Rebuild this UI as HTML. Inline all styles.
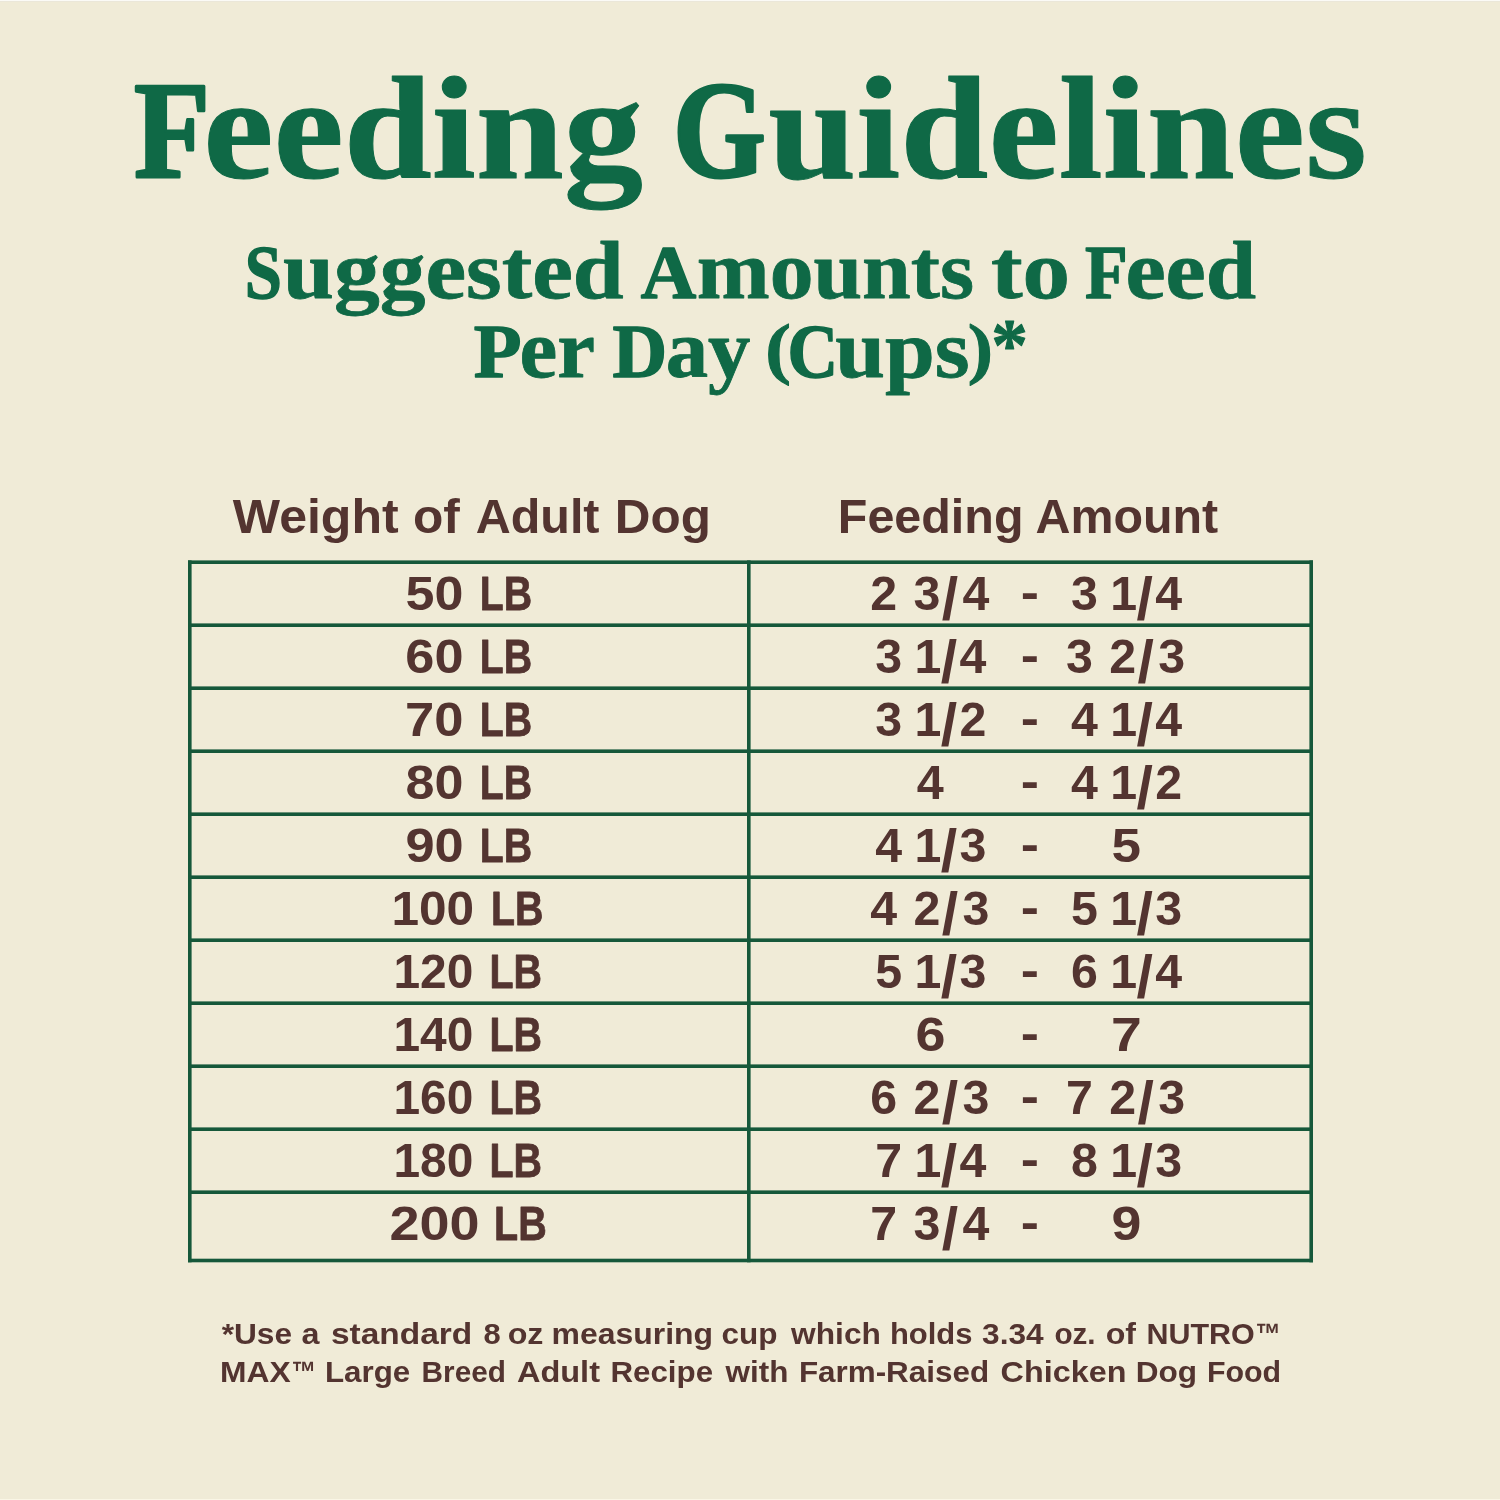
<!DOCTYPE html>
<html lang="en">
<head>
<meta charset="utf-8">
<title>Feeding Guidelines</title>
<style>
html,body{margin:0;padding:0;background:#f0ebd7;}
body{width:1500px;height:1500px;overflow:hidden;}
svg{display:block;}
.serif{font-family:"Liberation Serif",serif;font-weight:bold;fill:#0f6946;stroke:#0f6946;stroke-linejoin:round;stroke-width:0;}
.sans{font-family:"Liberation Sans",sans-serif;font-weight:bold;fill:#533430;stroke:#533430;stroke-linejoin:round;stroke-width:0;}
</style>
</head>
<body>
<svg width="1500" height="1500" viewBox="0 0 1500 1500">
<rect x="0" y="0" width="1500" height="1500" fill="#f0ebd7"/>
<rect x="0" y="0" width="1500" height="1" fill="#fbfaf6"/>
<rect x="0" y="1" width="1500" height="1" fill="#ebe7d9"/>
<rect x="0" y="1499" width="1500" height="1" fill="#faf6e6"/>
<text class="serif"><tspan x="134.0" y="177" textLength="76.0" lengthAdjust="spacingAndGlyphs" font-size="138" stroke-width="3">F</tspan><tspan x="203.2" y="178" textLength="439.8" lengthAdjust="spacingAndGlyphs" font-size="147" stroke-width="1">eeding</tspan> <tspan x="673.1" y="177" textLength="92.9" lengthAdjust="spacingAndGlyphs" font-size="138" stroke-width="3">G</tspan><tspan x="768.2" y="178" textLength="598.6" lengthAdjust="spacingAndGlyphs" font-size="147" stroke-width="1">uidelines</tspan></text>
<text class="serif"><tspan x="244.7" y="298.4" textLength="37.1" lengthAdjust="spacingAndGlyphs" font-size="76" stroke-width="1.5">S</tspan><tspan x="283.1" y="298.4" textLength="340.6" lengthAdjust="spacingAndGlyphs" font-size="83" stroke-width="0.8">uggested</tspan> <tspan x="640.8" y="298.4" textLength="55.5" lengthAdjust="spacingAndGlyphs" font-size="76" stroke-width="1.5">A</tspan><tspan x="696.8" y="298.4" textLength="277.2" lengthAdjust="spacingAndGlyphs" font-size="83" stroke-width="0.8">mounts</tspan> <tspan x="991.0" y="298.4" textLength="79.1" lengthAdjust="spacingAndGlyphs" font-size="83" stroke-width="0.8">to</tspan> <tspan x="1085.0" y="298.4" textLength="42.7" lengthAdjust="spacingAndGlyphs" font-size="76" stroke-width="1.5">F</tspan><tspan x="1125.4" y="298.4" textLength="130.7" lengthAdjust="spacingAndGlyphs" font-size="83" stroke-width="0.8">eed</tspan></text>
<text class="serif"><tspan x="473.8" y="376.6" textLength="47.8" lengthAdjust="spacingAndGlyphs" font-size="76" stroke-width="1.5">P</tspan><tspan x="519.6" y="376.6" textLength="75.5" lengthAdjust="spacingAndGlyphs" font-size="83" stroke-width="0.8">er</tspan> <tspan x="612.5" y="376.6" textLength="54.6" lengthAdjust="spacingAndGlyphs" font-size="76" stroke-width="1.5">D</tspan><tspan x="665.7" y="376.6" textLength="84.8" lengthAdjust="spacingAndGlyphs" font-size="83" stroke-width="0.8">ay</tspan> <tspan x="765.3" y="370.90000000000003" textLength="25.7" lengthAdjust="spacingAndGlyphs" font-size="67" stroke-width="1">(</tspan><tspan x="787.6" y="376.6" textLength="50.6" lengthAdjust="spacingAndGlyphs" font-size="76" stroke-width="1.5">C</tspan><tspan x="835.2" y="376.6" textLength="134.5" lengthAdjust="spacingAndGlyphs" font-size="83" stroke-width="0.8">ups</tspan><tspan x="967.7" y="370.90000000000003" textLength="25.2" lengthAdjust="spacingAndGlyphs" font-size="67" stroke-width="1">)</tspan><tspan x="991.3" y="370.3" textLength="36.7" lengthAdjust="spacingAndGlyphs" font-size="74" stroke-width="1">*</tspan></text>
<text class="sans"><tspan x="232.8" y="533" textLength="165.9" lengthAdjust="spacingAndGlyphs" font-size="49">Weight</tspan> <tspan x="413.0" y="533" textLength="46.9" lengthAdjust="spacingAndGlyphs" font-size="49">of</tspan> <tspan x="475.7" y="533" textLength="123.8" lengthAdjust="spacingAndGlyphs" font-size="49">Adult</tspan> <tspan x="614.8" y="533" textLength="96.1" lengthAdjust="spacingAndGlyphs" font-size="49">Dog</tspan></text>
<text class="sans"><tspan x="837.8" y="533" textLength="185.7" lengthAdjust="spacingAndGlyphs" font-size="49">Feeding</tspan> <tspan x="1035.5" y="533" textLength="182.7" lengthAdjust="spacingAndGlyphs" font-size="49">Amount</tspan></text>
<g fill="#16583a">
<rect x="188.0" y="560.4" width="1125.0" height="3.6"/>
<rect x="188.0" y="623.4" width="1125.0" height="3.6"/>
<rect x="188.0" y="686.4" width="1125.0" height="3.6"/>
<rect x="188.0" y="749.4" width="1125.0" height="3.6"/>
<rect x="188.0" y="812.4" width="1125.0" height="3.6"/>
<rect x="188.0" y="875.4" width="1125.0" height="3.6"/>
<rect x="188.0" y="938.4" width="1125.0" height="3.6"/>
<rect x="188.0" y="1001.4" width="1125.0" height="3.6"/>
<rect x="188.0" y="1064.4" width="1125.0" height="3.6"/>
<rect x="188.0" y="1127.4" width="1125.0" height="3.6"/>
<rect x="188.0" y="1190.4" width="1125.0" height="3.6"/>
<rect x="188.0" y="1258.7" width="1125.0" height="3.6"/>
<rect x="188.0" y="560.4" width="3.6" height="701.9"/>
<rect x="1309.4" y="560.4" width="3.6" height="701.9"/>
<rect x="747.0" y="560.4" width="3.6" height="701.9"/>
</g>
<g class="sans" font-size="48.3">
<text><tspan x="405.5" y="610" textLength="57.9" lengthAdjust="spacingAndGlyphs">50</tspan> <tspan x="479.8" y="610" textLength="52.3" lengthAdjust="spacingAndGlyphs" stroke-width="0.8">LB</tspan></text><text x="930.5" y="610" text-anchor="middle" letter-spacing="1.4">2 3<tspan font-size="59" dy="9">/</tspan><tspan dy="-9" dx="3">4</tspan></text><text x="1020.7" y="609" textLength="18.2" lengthAdjust="spacingAndGlyphs">-</text><text x="1126.3" y="610" text-anchor="middle" letter-spacing="-0.6">3 1<tspan font-size="59" dy="9">/</tspan><tspan dy="-9" dx="3">4</tspan></text>
<text><tspan x="405.3" y="673" textLength="58.2" lengthAdjust="spacingAndGlyphs">60</tspan> <tspan x="479.8" y="673" textLength="52.3" lengthAdjust="spacingAndGlyphs" stroke-width="0.8">LB</tspan></text><text x="930.5" y="673" text-anchor="middle" letter-spacing="-0.6">3 1<tspan font-size="59" dy="9">/</tspan><tspan dy="-9" dx="3">4</tspan></text><text x="1020.7" y="672" textLength="18.2" lengthAdjust="spacingAndGlyphs">-</text><text x="1126.3" y="673" text-anchor="middle" letter-spacing="1.4">3 2<tspan font-size="59" dy="9">/</tspan><tspan dy="-9" dx="3">3</tspan></text>
<text><tspan x="405.0" y="736" textLength="58.5" lengthAdjust="spacingAndGlyphs">70</tspan> <tspan x="479.8" y="736" textLength="52.3" lengthAdjust="spacingAndGlyphs" stroke-width="0.8">LB</tspan></text><text x="930.5" y="736" text-anchor="middle" letter-spacing="-0.6">3 1<tspan font-size="59" dy="9">/</tspan><tspan dy="-9" dx="3">2</tspan></text><text x="1020.7" y="735" textLength="18.2" lengthAdjust="spacingAndGlyphs">-</text><text x="1126.3" y="736" text-anchor="middle" letter-spacing="-0.6">4 1<tspan font-size="59" dy="9">/</tspan><tspan dy="-9" dx="3">4</tspan></text>
<text><tspan x="405.5" y="799" textLength="58.0" lengthAdjust="spacingAndGlyphs">80</tspan> <tspan x="479.8" y="799" textLength="52.3" lengthAdjust="spacingAndGlyphs" stroke-width="0.8">LB</tspan></text><text x="916.8" y="799" textLength="27.0" lengthAdjust="spacingAndGlyphs">4</text><text x="1020.7" y="798" textLength="18.2" lengthAdjust="spacingAndGlyphs">-</text><text x="1126.3" y="799" text-anchor="middle" letter-spacing="-0.6">4 1<tspan font-size="59" dy="9">/</tspan><tspan dy="-9" dx="3">2</tspan></text>
<text><tspan x="405.4" y="862" textLength="58.3" lengthAdjust="spacingAndGlyphs">90</tspan> <tspan x="479.8" y="862" textLength="52.3" lengthAdjust="spacingAndGlyphs" stroke-width="0.8">LB</tspan></text><text x="930.5" y="862" text-anchor="middle" letter-spacing="-0.6">4 1<tspan font-size="59" dy="9">/</tspan><tspan dy="-9" dx="3">3</tspan></text><text x="1020.7" y="861" textLength="18.2" lengthAdjust="spacingAndGlyphs">-</text><text x="1111.4" y="862" textLength="29.5" lengthAdjust="spacingAndGlyphs">5</text>
<text><tspan x="391.5" y="925" textLength="82.7" lengthAdjust="spacingAndGlyphs">100</tspan> <tspan x="491.0" y="925" textLength="52.4" lengthAdjust="spacingAndGlyphs" stroke-width="0.8">LB</tspan></text><text x="930.5" y="925" text-anchor="middle" letter-spacing="1.4">4 2<tspan font-size="59" dy="9">/</tspan><tspan dy="-9" dx="3">3</tspan></text><text x="1020.7" y="924" textLength="18.2" lengthAdjust="spacingAndGlyphs">-</text><text x="1126.3" y="925" text-anchor="middle" letter-spacing="-0.6">5 1<tspan font-size="59" dy="9">/</tspan><tspan dy="-9" dx="3">3</tspan></text>
<text><tspan x="393.4" y="988" textLength="79.9" lengthAdjust="spacingAndGlyphs">120</tspan> <tspan x="489.5" y="988" textLength="52.5" lengthAdjust="spacingAndGlyphs" stroke-width="0.8">LB</tspan></text><text x="930.5" y="988" text-anchor="middle" letter-spacing="-0.6">5 1<tspan font-size="59" dy="9">/</tspan><tspan dy="-9" dx="3">3</tspan></text><text x="1020.7" y="987" textLength="18.2" lengthAdjust="spacingAndGlyphs">-</text><text x="1126.3" y="988" text-anchor="middle" letter-spacing="-0.6">6 1<tspan font-size="59" dy="9">/</tspan><tspan dy="-9" dx="3">4</tspan></text>
<text><tspan x="393.4" y="1051" textLength="79.9" lengthAdjust="spacingAndGlyphs">140</tspan> <tspan x="489.5" y="1051" textLength="52.5" lengthAdjust="spacingAndGlyphs" stroke-width="0.8">LB</tspan></text><text x="915.6" y="1051" textLength="30.0" lengthAdjust="spacingAndGlyphs">6</text><text x="1020.7" y="1050" textLength="18.2" lengthAdjust="spacingAndGlyphs">-</text><text x="1111.0" y="1051" textLength="30.8" lengthAdjust="spacingAndGlyphs">7</text>
<text><tspan x="393.4" y="1114" textLength="79.9" lengthAdjust="spacingAndGlyphs">160</tspan> <tspan x="489.5" y="1114" textLength="52.5" lengthAdjust="spacingAndGlyphs" stroke-width="0.8">LB</tspan></text><text x="930.5" y="1114" text-anchor="middle" letter-spacing="1.4">6 2<tspan font-size="59" dy="9">/</tspan><tspan dy="-9" dx="3">3</tspan></text><text x="1020.7" y="1113" textLength="18.2" lengthAdjust="spacingAndGlyphs">-</text><text x="1126.3" y="1114" text-anchor="middle" letter-spacing="1.4">7 2<tspan font-size="59" dy="9">/</tspan><tspan dy="-9" dx="3">3</tspan></text>
<text><tspan x="393.4" y="1177" textLength="79.9" lengthAdjust="spacingAndGlyphs">180</tspan> <tspan x="489.5" y="1177" textLength="52.5" lengthAdjust="spacingAndGlyphs" stroke-width="0.8">LB</tspan></text><text x="930.5" y="1177" text-anchor="middle" letter-spacing="-0.6">7 1<tspan font-size="59" dy="9">/</tspan><tspan dy="-9" dx="3">4</tspan></text><text x="1020.7" y="1176" textLength="18.2" lengthAdjust="spacingAndGlyphs">-</text><text x="1126.3" y="1177" text-anchor="middle" letter-spacing="-0.6">8 1<tspan font-size="59" dy="9">/</tspan><tspan dy="-9" dx="3">3</tspan></text>
<text><tspan x="389.5" y="1239.5" textLength="90.1" lengthAdjust="spacingAndGlyphs">200</tspan> <tspan x="494.0" y="1239.5" textLength="52.7" lengthAdjust="spacingAndGlyphs" stroke-width="0.8">LB</tspan></text><text x="930.5" y="1239.5" text-anchor="middle" letter-spacing="1.4">7 3<tspan font-size="59" dy="9">/</tspan><tspan dy="-9" dx="3">4</tspan></text><text x="1020.7" y="1238.5" textLength="18.2" lengthAdjust="spacingAndGlyphs">-</text><text x="1111.4" y="1239.5" textLength="29.9" lengthAdjust="spacingAndGlyphs">9</text>
</g>
<text class="sans"><tspan x="221.7" y="1344.4" textLength="70.4" lengthAdjust="spacingAndGlyphs" font-size="29.5">*Use</tspan> <tspan x="301.5" y="1344.4" textLength="18.0" lengthAdjust="spacingAndGlyphs" font-size="29.5">a</tspan> <tspan x="331.0" y="1344.4" textLength="141.3" lengthAdjust="spacingAndGlyphs" font-size="29.5">standard</tspan> <tspan x="483.4" y="1344.4" textLength="17.2" lengthAdjust="spacingAndGlyphs" font-size="29.5">8</tspan> <tspan x="507.7" y="1344.4" textLength="35.8" lengthAdjust="spacingAndGlyphs" font-size="29.5">oz</tspan> <tspan x="551.5" y="1344.4" textLength="161.6" lengthAdjust="spacingAndGlyphs" font-size="29.5">measuring</tspan> <tspan x="721.6" y="1344.4" textLength="56.0" lengthAdjust="spacingAndGlyphs" font-size="29.5">cup</tspan> <tspan x="791.1" y="1344.4" textLength="89.8" lengthAdjust="spacingAndGlyphs" font-size="29.5">which</tspan> <tspan x="889.9" y="1344.4" textLength="82.6" lengthAdjust="spacingAndGlyphs" font-size="29.5">holds</tspan> <tspan x="982.1" y="1344.4" textLength="61.6" lengthAdjust="spacingAndGlyphs" font-size="29.5">3.34</tspan> <tspan x="1054.4" y="1344.4" textLength="41.2" lengthAdjust="spacingAndGlyphs" font-size="29.5">oz.</tspan> <tspan x="1105.7" y="1344.4" textLength="30.3" lengthAdjust="spacingAndGlyphs" font-size="29.5">of</tspan> <tspan x="1146.4" y="1344.4" textLength="108.4" lengthAdjust="spacingAndGlyphs" font-size="29.5">NUTRO</tspan><tspan x="1255.5" y="1344.4" textLength="25.2" lengthAdjust="spacingAndGlyphs" font-size="29.5">™</tspan></text>
<text class="sans"><tspan x="220.0" y="1381.6" textLength="70.7" lengthAdjust="spacingAndGlyphs" font-size="29.5">MAX</tspan><tspan x="291.5" y="1381.6" textLength="24.5" lengthAdjust="spacingAndGlyphs" font-size="29.5">™</tspan> <tspan x="324.9" y="1381.6" textLength="85.4" lengthAdjust="spacingAndGlyphs" font-size="29.5">Large</tspan> <tspan x="421.6" y="1381.6" textLength="84.3" lengthAdjust="spacingAndGlyphs" font-size="29.5">Breed</tspan> <tspan x="516.9" y="1381.6" textLength="83.1" lengthAdjust="spacingAndGlyphs" font-size="29.5">Adult</tspan> <tspan x="610.4" y="1381.6" textLength="102.7" lengthAdjust="spacingAndGlyphs" font-size="29.5">Recipe</tspan> <tspan x="725.6" y="1381.6" textLength="62.8" lengthAdjust="spacingAndGlyphs" font-size="29.5">with</tspan> <tspan x="798.9" y="1381.6" textLength="190.2" lengthAdjust="spacingAndGlyphs" font-size="29.5">Farm-Raised</tspan> <tspan x="1000.6" y="1381.6" textLength="125.8" lengthAdjust="spacingAndGlyphs" font-size="29.5">Chicken</tspan> <tspan x="1135.8" y="1381.6" textLength="61.3" lengthAdjust="spacingAndGlyphs" font-size="29.5">Dog</tspan> <tspan x="1206.9" y="1381.6" textLength="74.2" lengthAdjust="spacingAndGlyphs" font-size="29.5">Food</tspan></text>
</svg>
</body>
</html>
